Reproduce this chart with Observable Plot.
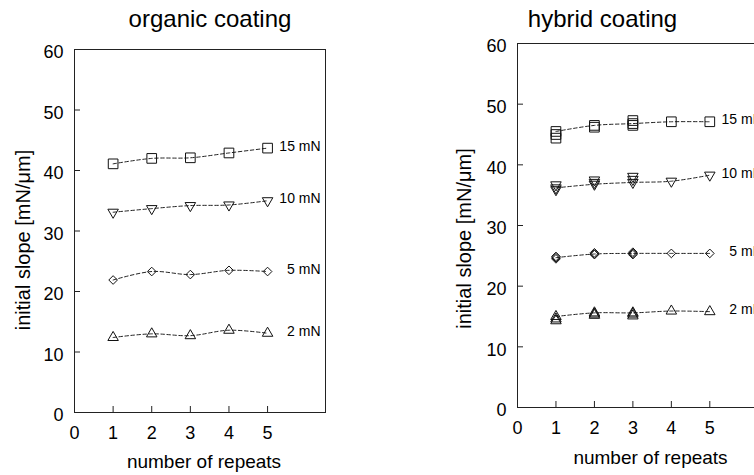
<!DOCTYPE html>
<html><head><meta charset="utf-8">
<script src="https://cdn.jsdelivr.net/npm/d3@7"></script>
<script src="https://cdn.jsdelivr.net/npm/@observablehq/plot@0.6"></script>
<style>
html,body{margin:0;padding:0;background:#fff;}
#wrap{position:relative;width:754px;height:475px;overflow:hidden;background:#fff;}
#wrap svg{position:absolute;top:0;max-width:none;}
</style></head><body><div id="wrap"></div>
<script>
// ---- data ----
const repeats = [1, 2, 3, 4, 5];
const seriesNames = ["15 mN", "10 mN", "5 mN", "2 mN"];
const xTicks = [0, 1, 2, 3, 4, 5];
const yTicks = [0, 10, 20, 30, 40, 50, 60];

const organic15 = [41.1, 42.0, 42.1, 42.9, 43.7];
const organic10 = [33.1, 33.7, 34.2, 34.3, 35.0];
const organic5  = [21.9, 23.3, 22.8, 23.5, 23.3];
const organic2  = [12.4, 13.0, 12.7, 13.6, 13.1];

const hybrid15 = [45.5, 46.5, 46.8, 47.1, 47.1];
const hybrid10 = [36.2, 36.8, 37.1, 37.3, 38.3];
const hybrid5  = [24.7, 25.3, 25.4, 25.4, 25.4];
const hybrid2  = [15.0, 15.6, 15.6, 15.9, 15.8];

// additional repeated measurements (hybrid, first repeats)
const hybrid15ExtraX = [1, 1, 2, 3, 3];
const hybrid15ExtraY = [45.0, 44.4, 46.2, 47.3, 46.5];
const hybrid10ExtraX = [1, 1, 2, 2, 3, 3];
const hybrid10ExtraY = [36.7, 35.9, 37.5, 37.1, 38.1, 37.6];
const hybrid5ExtraX  = [1, 1, 2, 2, 3, 3];
const hybrid5ExtraY  = [24.5, 24.9, 25.2, 25.5, 25.2, 25.6];
const hybrid2ExtraX  = [1, 1, 2, 2, 3, 3];
const hybrid2ExtraY  = [14.6, 14.3, 15.2, 15.4, 15.1, 15.4];

// ---- helpers ----
function rowsOf(seriesArrays) {
  const out = [];
  seriesNames.forEach((s, k) => repeats.forEach((x, i) => out.push({series: s, x, y: seriesArrays[k][i]})));
  return out;
}
function extrasOf(pairs) {
  const out = [];
  seriesNames.forEach((s, k) => pairs[k][0].forEach((x, i) => out.push({series: s, x, y: pairs[k][1][i]})));
  return out;
}
const triangleDown = {
  draw(context, size) {
    const y = -Math.sqrt(size / (Math.sqrt(3) * 3));
    context.moveTo(0, -y * 2);
    context.lineTo(-Math.sqrt(3) * y, y);
    context.lineTo(Math.sqrt(3) * y, y);
    context.closePath();
  }
};
const symbolFor = {"15 mN": "square", "10 mN": triangleDown, "5 mN": "diamond2", "2 mN": "triangle"};
const rFor = {"15 mN": 5.45, "10 mN": 3.9, "5 mN": 3.9, "2 mN": 3.9};
const FONT = "'Liberation Sans', Arial, Helvetica, sans-serif";
const fmt = (d) => String(d);

function panel(o) {
  const marks = [
    Plot.frame({stroke: "#222", strokeWidth: 1}),
    Plot.axisX({ticks: xTicks, tickSize: -6, fill: "none", stroke: "#222", label: null}),
    Plot.axisY({ticks: yTicks, tickSize: -6, fill: "none", stroke: "#222", label: null}),
    Plot.axisX({ticks: xTicks, tickFormat: fmt, tickSize: 0, tickPadding: 14, stroke: "none", fontSize: 18, label: null}),
    Plot.axisY({ticks: yTicks, tickFormat: fmt, tickSize: 0, tickPadding: 11, stroke: "none", fontSize: 18, dy: 3, label: null}),
    Plot.line(o.rows, {x: "x", y: "y", z: "series", curve: "catmull-rom", stroke: "#222", strokeWidth: 1, strokeDasharray: "3.5,2.5"})
  ];
  seriesNames.forEach((s) => {
    const pts = o.rows.filter((d) => d.series === s).concat(o.extras.filter((d) => d.series === s));
    marks.push(Plot.dot(pts, {x: "x", y: "y", symbol: symbolFor[s], r: rFor[s], stroke: "#111", fill: "none", strokeWidth: 1}));
  });
  marks.push(
    Plot.text(o.rows, Plot.selectLast({x: "x", y: "y", z: "series", text: "series", textAnchor: "end", lineAnchor: "middle", dx: 53, dy: -2, fontSize: 14})),
    Plot.text([o.title], {frameAnchor: "top", textAnchor: "middle", lineAnchor: "middle", dx: o.titleDx, dy: o.titleDy, fontSize: 24}),
    Plot.text(["number of repeats"], {frameAnchor: "bottom", textAnchor: "middle", lineAnchor: "middle", dx: o.xLabDx, dy: o.xLabDy, fontSize: 19}),
    Plot.text(["initial slope [mN/μm]"], {frameAnchor: "left", textAnchor: "middle", lineAnchor: "middle", rotate: -90, dx: o.yLabDx, dy: o.yLabDy, fontSize: 20})
  );
  return Plot.plot({
    width: o.width, height: 475,
    marginLeft: o.marginLeft, marginRight: o.marginRight, marginTop: o.marginTop, marginBottom: o.marginBottom,
    x: {domain: [0, 6.5], label: null},
    y: {domain: [0, 60], label: null},
    style: {fontFamily: FONT, color: "#000", background: "transparent", overflow: "hidden"},
    marks
  });
}

const left = panel({
  width: 377, marginLeft: 74, marginRight: 52, marginTop: 49, marginBottom: 63,
  rows: rowsOf([organic15, organic10, organic5, organic2]),
  extras: [],
  title: "organic coating", titleDx: 10, titleDy: -30,
  xLabDx: 4, xLabDy: 49, yLabDx: -51, yLabDy: 9
});
const right = panel({
  width: 420, marginLeft: 140, marginRight: 30, marginTop: 43, marginBottom: 68,
  rows: rowsOf([hybrid15, hybrid10, hybrid5, hybrid2]),
  extras: extrasOf([[hybrid15ExtraX, hybrid15ExtraY], [hybrid10ExtraX, hybrid10ExtraY], [hybrid5ExtraX, hybrid5ExtraY], [hybrid2ExtraX, hybrid2ExtraY]]),
  title: "hybrid coating", titleDx: -40, titleDy: -24,
  xLabDx: 8, xLabDy: 50, yLabDx: -53, yLabDy: 13
});
left.style.left = "0px";
right.style.left = "377px";
const wrap = document.getElementById("wrap");
wrap.appendChild(left);
wrap.appendChild(right);
</script>
</body></html>
